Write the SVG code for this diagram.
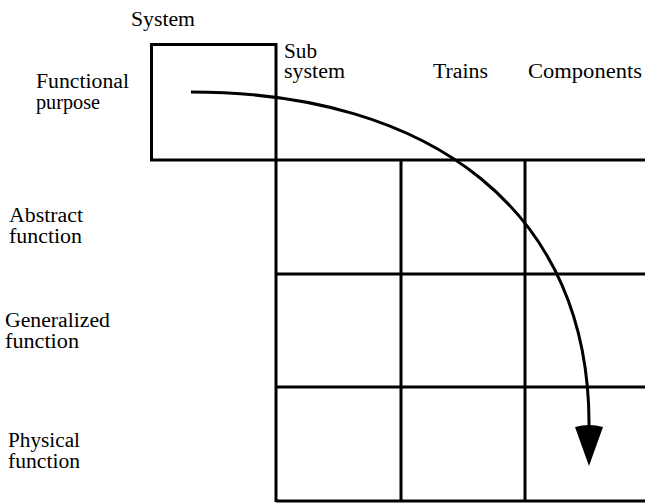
<svg xmlns="http://www.w3.org/2000/svg" width="645" height="503" viewBox="0 0 645 503">
<rect width="645" height="503" fill="#fff"/>
<g id="labels" font-family="Liberation Serif" font-size="20" fill="#000">
<text style="font-family:'Liberation Serif',serif !important" x="131" y="26" textLength="64" lengthAdjust="spacingAndGlyphs">System</text>
<text style="font-family:'Liberation Serif',serif !important" x="36" y="88" textLength="93" lengthAdjust="spacingAndGlyphs">Functional</text>
<text style="font-family:'Liberation Serif',serif !important" x="36" y="109" textLength="64" lengthAdjust="spacingAndGlyphs">purpose</text>
<text style="font-family:'Liberation Serif',serif !important" x="284" y="58" textLength="33" lengthAdjust="spacingAndGlyphs">Sub</text>
<text style="font-family:'Liberation Serif',serif !important" x="284" y="78" textLength="61" lengthAdjust="spacingAndGlyphs">system</text>
<text style="font-family:'Liberation Serif',serif !important" x="433" y="78" textLength="55" lengthAdjust="spacingAndGlyphs">Trains</text>
<text style="font-family:'Liberation Serif',serif !important" x="528" y="78" textLength="114" lengthAdjust="spacingAndGlyphs">Components</text>
<text style="font-family:'Liberation Serif',serif !important" x="9" y="222" textLength="74" lengthAdjust="spacingAndGlyphs">Abstract</text>
<text style="font-family:'Liberation Serif',serif !important" x="9" y="243" textLength="73" lengthAdjust="spacingAndGlyphs">function</text>
<text style="font-family:'Liberation Serif',serif !important" x="5" y="327" textLength="105" lengthAdjust="spacingAndGlyphs">Generalized</text>
<text style="font-family:'Liberation Serif',serif !important" x="5" y="348" textLength="74" lengthAdjust="spacingAndGlyphs">function</text>
<text style="font-family:'Liberation Serif',serif !important" x="8" y="447" textLength="72" lengthAdjust="spacingAndGlyphs">Physical</text>
<text style="font-family:'Liberation Serif',serif !important" x="8" y="468" textLength="72" lengthAdjust="spacingAndGlyphs">function</text>
</g>
<g id="system-box" stroke="#000" stroke-width="3" fill="none"><rect x="151.5" y="44.5" width="124.5" height="115.5"/></g>
<g id="grid" stroke="#000" stroke-width="3" fill="none">
<path d="M276,160V502M401,160V502M525,160V502M276,160H645M276,274H645M276,387H645M276,501H645"/>
</g>
<g id="connectors">
<path d="M191,92 C430,92 592,210 589,430" stroke="#000" stroke-width="3" fill="none"/>
<path d="M575,427 Q589,423 603,427 L589,466 Z" fill="#000"/>
</g>
</svg>
